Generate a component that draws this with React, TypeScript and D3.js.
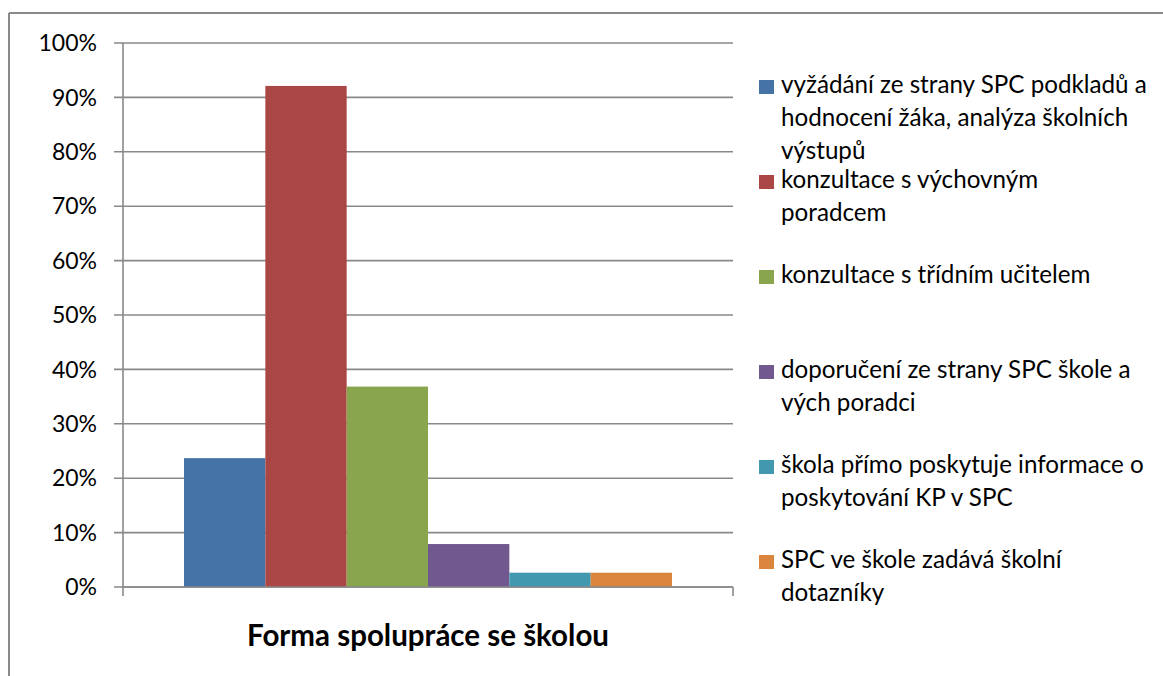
import React from "react";
import * as d3 from "d3";

const category = "Forma spolupráce se školou";
const seriesNames = [
  "vyžádání ze strany SPC podkladů a\nhodnocení žáka, analýza školních\nvýstupů",
  "konzultace s výchovným\nporadcem",
  "konzultace s třídním učitelem",
  "doporučení ze strany SPC škole a\nvých poradci",
  "škola přímo poskytuje informace o\nposkytování KP v SPC",
  "SPC ve škole zadává školní\ndotazníky",
];
const seriesValues = [9 / 38, 35 / 38, 14 / 38, 3 / 38, 1 / 38, 1 / 38];
const seriesColors = ["#4572A7", "#AA4643", "#89A54E", "#71588F", "#4198AF", "#DB843D"];
const yTicks = [0, 0.1, 0.2, 0.3, 0.4, 0.5, 0.6, 0.7, 0.8, 0.9, 1.0];

const W = 1163;
const H = 676;
const FONT = "Lato, 'Open Sans', sans-serif";

export default function App() {
  const left = 123;
  const right = 733;
  const top = 43;
  const bottom = 587;

  const y = d3.scaleLinear().domain([0, 1]).range([bottom, top]);
  const xCat = d3.scaleBand<string>().domain([category]).range([left, right]).paddingInner(0).paddingOuter(0.125);
  const xSeries = d3
    .scaleBand<number>()
    .domain(seriesValues.map((_, i) => i))
    .range([xCat(category) as number, (xCat(category) as number) + xCat.bandwidth()])
    .padding(0);
  const fmt = d3.format(".0%");
  const gridColor = "#898989";

  const legendX = 759;
  const legendTop = 93;
  const legendStep = 95;
  const lineH = 33;

  return (
    <svg width={W} height={H} style={{ position: "absolute", left: 0, top: 0, display: "block" }}>
      <rect x={0} y={0} width={W} height={H} fill="#fff" />
      {/* outer chart border (only top & left visible) */}
      <line x1={9} y1={13} x2={W} y2={13} stroke="#8a8a8a" strokeWidth={2} />
      <line x1={9} y1={13} x2={9} y2={H} stroke="#8a8a8a" strokeWidth={2} />

      {/* gridlines */}
      {yTicks.map((t) => (
        <line key={"g" + t} x1={114} x2={right} y1={y(t)} y2={y(t)} stroke={gridColor} strokeWidth={1.6} />
      ))}
      {/* y tick labels */}
      {yTicks.map((t) => (
        <text
          key={"l" + t}
          x={97}
          y={y(t)}
          dy="0.36em"
          textAnchor="end"
          fontFamily={FONT}
          fontSize={23}
          fill="#000"
        >
          {fmt(t)}
        </text>
      ))}

      {/* bars */}
      {seriesValues.map((v, i) => (
        <rect
          key={"b" + i}
          x={xSeries(i) as number}
          y={y(v)}
          width={xSeries.bandwidth()}
          height={y(0) - y(v)}
          fill={seriesColors[i]}
        />
      ))}

      {/* axes */}
      <line x1={left} x2={left} y1={top} y2={596} stroke={gridColor} strokeWidth={1.6} />
      <line x1={left} x2={right} y1={bottom} y2={bottom} stroke={gridColor} strokeWidth={1.6} />
      <line x1={right} x2={right} y1={bottom} y2={596} stroke={gridColor} strokeWidth={1.6} />

      {/* category title */}
      <text
        x={(xCat(category) as number) + xCat.bandwidth() / 2}
        y={646}
        textAnchor="middle"
        fontFamily={FONT}
        fontWeight="bold"
        fontSize={29.5}
        fill="#000"
      >
        {category}
      </text>

      {/* legend */}
      {seriesNames.map((name, i) => {
        const by = legendTop + i * legendStep;
        const lines = name.split("\n");
        return (
          <g key={"lg" + i}>
            <rect x={legendX} y={by - 13} width={15} height={14} fill={seriesColors[i]} />
            <text fontFamily={FONT} fontSize={24.2} fill="#000">
              {lines.map((ln, j) => (
                <tspan key={j} x={781} y={by + j * lineH}>
                  {ln}
                </tspan>
              ))}
            </text>
          </g>
        );
      })}
    </svg>
  );
}
